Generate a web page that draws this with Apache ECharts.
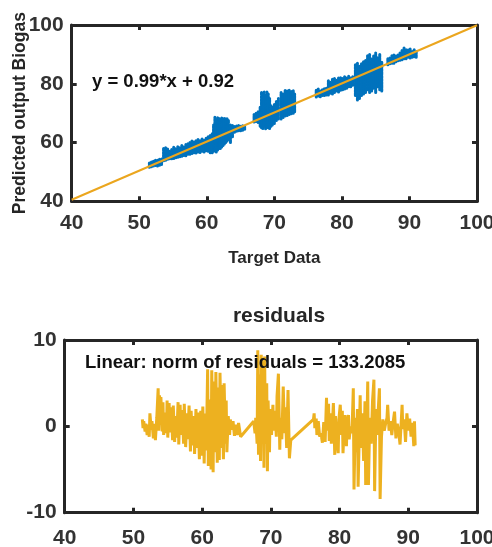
<!DOCTYPE html>
<html>
<head>
<meta charset="utf-8">
<script src="https://cdn.jsdelivr.net/npm/echarts@6/dist/echarts.min.js"></script>
<style>
  html, body { margin: 0; padding: 0; background: #fff; }
  #chart { width: 492px; height: 547px; }
</style>
</head>
<body>
<div id="chart"></div>
<script>
// scatter of predicted vs target, as vertical streaks of dots: target, lowest, highest predicted
const streakX = [51.5, 51.8, 52.1, 52.4, 52.7, 53.0, 53.3,
  53.6, 53.9, 54.2, 54.5,
  54.8, 55.1, 55.4, 55.7, 56.0, 56.3, 56.6, 56.9, 57.2,
  57.5, 57.8, 58.1, 58.4, 58.7, 59.0, 59.3, 59.6, 59.9, 60.2, 60.5,
  60.8, 61.0, 61.2, 61.4, 61.6, 61.8, 62.0, 62.2, 62.4, 62.6, 62.8, 63.0, 63.2,
  63.5, 63.8, 64.1, 64.4, 64.7, 65.0, 65.3, 65.6,
  67.0, 67.3, 67.6, 67.9, 68.1, 68.3, 68.5, 68.7, 68.9, 69.1, 69.3, 69.5, 69.7,
  70.0, 70.3, 70.6, 71.0, 71.3, 71.6, 71.9, 72.2, 72.5, 72.8, 73.0,
  76.2, 76.5, 76.8, 77.1, 77.4, 77.7,
  78.0, 78.3, 78.6, 78.9, 79.2, 79.5, 79.8, 80.1, 80.4, 80.7, 81.0, 81.3, 81.6,
  82.0, 82.3, 82.6, 82.9, 83.2, 83.5, 83.8, 84.1, 84.4, 84.7, 85.0, 85.3, 85.6, 85.9,
  86.8, 87.1, 87.4, 87.7, 88.0, 88.3,
  88.6, 88.9, 89.2, 89.5, 89.8, 90.1, 90.4, 90.7, 91.0];
const streakLow = [51.6, 51.8, 52.0, 52.2, 52.0, 52.3, 52.5,
  53.8, 54.0, 54.3, 54.5,
  54.5, 54.6, 54.8, 55.0, 55.2, 55.3, 55.6, 55.5, 56.0,
  56.0, 56.3, 56.5, 56.4, 56.8, 56.6, 57.0, 56.8, 57.2, 57.0, 56.5,
  56.5, 57.0, 57.2, 56.8, 57.5, 58.0, 58.0, 58.5, 59.0, 59.5, 60.0, 60.5, 61.0,
  60.0, 62.0, 63.5, 63.8, 64.0, 64.0, 64.2, 64.5,
  67.0, 67.2, 66.8, 65.5, 65.0, 64.8, 65.5, 64.7, 65.2, 65.0, 64.8, 65.5, 66.0,
  66.5, 67.5, 68.0, 68.0, 68.5, 69.0, 69.2, 69.5, 69.8, 70.0, 70.5,
  75.5, 75.8, 75.6, 76.0, 76.0, 76.2,
  76.2, 76.8, 76.5, 77.0, 77.5, 77.2, 77.8, 78.0, 78.2, 78.5, 79.0, 79.0, 79.5,
  76.0, 74.5, 75.0, 76.0, 76.5, 77.0, 78.0, 77.0, 77.5, 78.5, 77.0, 79.0, 78.0, 77.5,
  86.5, 86.8, 87.0, 87.0, 87.5, 87.8,
  88.0, 88.2, 88.5, 88.5, 89.0, 88.8, 89.0, 89.2, 89.0];
const streakHigh = [53.0, 53.4, 53.6, 54.0, 54.2, 54.5, 54.4,
  58.0, 58.2, 57.8, 57.0,
  57.8, 58.4, 58.0, 58.6, 58.2, 59.0, 58.5, 59.3, 59.6,
  60.0, 60.5, 60.2, 60.8, 61.0, 60.6, 61.2, 60.8, 61.5, 62.0, 62.4,
  63.0, 66.0, 68.6, 68.0, 68.5, 68.2, 67.8, 68.4, 68.0, 68.3, 68.0, 68.3, 67.5,
  66.0, 65.8, 65.5, 65.6, 65.8, 65.5, 65.7, 65.6,
  69.5, 70.0, 70.5, 72.0, 77.0, 76.8, 77.2, 76.0, 77.2, 76.5, 75.0, 72.5, 72.0,
  73.0, 74.0, 75.0, 77.0, 76.5, 77.8, 77.5, 77.8, 77.5, 77.8, 76.5,
  77.8, 78.2, 77.6, 78.0, 78.3, 78.5,
  81.0, 80.5, 81.5, 81.8, 81.2, 82.0, 82.2, 81.8, 82.5, 82.0, 82.6, 82.0, 82.4,
  86.5, 87.0, 86.0, 86.8, 87.5, 88.0, 89.5, 90.0, 88.5, 89.5, 90.5, 89.0, 90.0, 87.5,
  88.5, 89.0, 89.5, 89.8, 89.5, 90.0,
  90.5, 91.5, 92.2, 91.8, 91.5, 91.8, 91.2, 91.6, 91.0];

// linear fit y = 0.99*x + 0.92, end points
const fitX = [40, 100];
const fitY = [40.52, 99.92];

// residuals
const residX = [51.3, 51.4, 51.5, 51.7, 51.8, 52.0, 52.1, 52.3, 52.4, 52.6, 52.7, 52.9, 53.0, 53.2, 53.4,
  53.6, 53.7, 53.8, 53.9, 54.0, 54.2, 54.3, 54.4, 54.6, 54.8, 54.9, 55.0, 55.2, 55.3, 55.5, 55.7, 55.8,
  56.0, 56.1, 56.3, 56.5, 56.6, 56.8, 56.9, 57.1, 57.3, 57.4, 57.6, 57.8, 57.9, 58.1, 58.3, 58.4, 58.6,
  58.8, 58.9, 59.1, 59.3, 59.4, 59.6, 59.8, 59.9, 60.1, 60.3, 60.4, 60.6, 60.8, 60.9, 61.1, 61.3, 61.4,
  61.6, 61.7, 61.9, 62.0, 62.2, 62.3, 62.5, 62.6, 62.8, 62.9, 63.1, 63.2, 63.4, 63.5, 63.6, 63.8, 64.0,
  64.1, 64.3, 64.5, 64.7, 64.9, 65.1, 65.3, 65.6,
  67.5, 67.7, 67.8, 68.0, 68.1, 68.2, 68.3, 68.5, 68.6, 68.7, 68.8, 69.0, 69.1, 69.2, 69.4, 69.5, 69.6,
  69.8, 69.9, 70.1, 70.3, 70.4, 70.6, 70.8, 70.9, 71.1, 71.3, 71.4, 71.6, 71.8, 72.0, 72.1, 72.3, 72.5,
  72.7, 72.9,
  76.2, 76.3, 76.4, 76.6, 76.7, 76.9, 77.1, 77.3, 77.5, 77.7, 77.9, 78.1, 78.2, 78.4, 78.5, 78.7, 78.8,
  79.0, 79.1, 79.3, 79.4, 79.6, 79.8, 79.9, 80.1, 80.3, 80.4, 80.5, 80.7, 80.8, 81.0, 81.1, 81.3, 81.4,
  81.6, 81.8, 82.0, 82.1, 82.3, 82.4, 82.6, 82.7, 83.0, 83.1, 83.3, 83.5, 83.7, 83.8, 84.1, 84.2, 84.4,
  84.6, 84.8, 85.0, 85.1, 85.3, 85.5, 85.6, 85.8, 85.9, 86.1, 86.3, 86.5, 86.7, 86.9, 87.0, 87.2, 87.4,
  87.6, 87.8, 88.0, 88.2, 88.4, 88.6, 88.8, 89.1, 89.2, 89.4, 89.6, 89.8, 90.0, 90.2, 90.4, 90.6, 90.8,
  90.9, 91.0];
const residY = [0.8, -0.2, 0.6, -0.6, 0.3, -1.0, 0.2, -1.2, 1.5, -0.4, 0.6, -1.4, 0.3, -1.6, 1.0,
  4.4, -0.5, 3.6, 0.2, 3.4, -0.6, 2.8, -1.0, 1.6, -0.8, 3.0, -1.3, 2.7, -0.7, 2.2, -1.6, 2.4,
  -1.8, 1.2, -1.3, 2.8, -2.1, 2.5, -1.0, 1.9, -2.0, 2.6, -2.4, 1.5, -1.5, 2.4, -2.9, 1.8, -2.2,
  1.2, -3.2, 2.0, -2.5, 1.6, -3.8, 1.8, -3.4, 2.3, -4.3, 1.5, -2.8, 6.6, -4.6, 3.1, -5.0, 6.5,
  -5.3, 5.2, -3.0, 6.3, -4.2, 4.5, -3.9, 6.2, -2.5, 4.8, -3.8, 5.0, -2.0, 3.0, -3.0, 1.2, -1.0,
  0.8, -0.4, 0.6, -1.1, 0.2, -1.0, 0.4, -1.2,
  0.6, -0.8, 1.0, -2.0, 8.8, -3.3, 6.0, -4.0, 8.3, -1.5, 7.5, -4.8, 8.1, -2.0, 5.0, -5.2, 3.0,
  -3.0, 2.0, -1.0, 2.5, -0.5, 1.8, -1.2, 3.5, 6.1, -2.7, 1.0, -1.5, 4.6, -0.8, 2.2, -2.5, 4.2,
  -3.7, -1.6,
  0.8, 1.5, -0.2, 0.9, -1.0, 0.6, -1.2, -0.8, -1.9, 0.5, -1.8, 3.3, -0.5, 2.6, -1.7, 1.5, -2.0,
  1.0, 2.7, -3.3, 1.2, -1.5, -3.1, 0.8, 2.5, -1.0, 1.8, -3.1, 0.5, 1.3, -2.3, 0.4, 1.3, -1.5,
  0.0, -0.8, 4.4, -7.3, 1.0, -3.0, 2.0, -7.0, 3.6, -2.5, 1.5, -4.0, 2.9, -6.8, 5.2, -6.8, 1.0,
  -2.0, 3.0, 5.4, -7.5, 2.0, -1.0, 1.5, 4.4, -8.4, -1.2, 0.8, -0.5, 0.3, 1.0, 2.5, -0.5, 0.6,
  -1.0, 0.5, 1.7, -1.4, 0.3, -0.6, -2.1, 2.5, -0.3, 0.8, -1.8, 1.5, -0.5, 0.9, -1.2, 0.4, -2.3,
  0.6, -2.2];

const chart = echarts.init(document.getElementById('chart'));
const ink = '#262626';
const tickFont = { fontFamily: 'Liberation Sans, Arial, sans-serif', fontWeight: 'bold', fontSize: 21, color: '#333' };

// one side of a boxed matlab-style frame
const frame = (gridIndex, position, min, max, interval, withLabels) => ({
  gridIndex: gridIndex,
  type: 'value',
  position: position,
  min: min,
  max: max,
  interval: interval,
  splitLine: { show: false },
  axisLine: { show: true, onZero: false, lineStyle: { color: ink, width: 3 } },
  axisTick: { show: true, inside: true, length: 5, lineStyle: { color: ink, width: 3 } },
  axisLabel: Object.assign({ show: withLabels, margin: 8 }, tickFont)
});

const streakData = streakX.map((x, i) => [x, streakLow[i], streakHigh[i]]);
const fitData = fitX.map((x, i) => [x, fitY[i]]);
const residData = residX.map((x, i) => [x, residY[i]]);

const xTop0 = frame(0, 'bottom', 40, 100, 10, true);
xTop0.name = 'Target Data';
xTop0.nameLocation = 'middle';
xTop0.nameGap = 49;
xTop0.nameMoveOverlap = false;
xTop0.nameTextStyle = { fontFamily: 'Liberation Sans, Arial, sans-serif', fontWeight: 'bold', fontSize: 17, color: ink };
xTop0.axisLabel.margin = 11;

const yTop0 = frame(0, 'left', 40, 100, 20, true);
yTop0.name = 'Predicted output Biogas';
yTop0.nameLocation = 'middle';
yTop0.nameGap = 43;
yTop0.nameMoveOverlap = false;
yTop0.nameTextStyle = { fontFamily: 'Liberation Sans, Arial, sans-serif', fontWeight: 'bold', fontSize: 17.5, color: ink };

const xBot0 = frame(1, 'bottom', 40, 100, 10, true);
xBot0.axisLabel.margin = 15;
const yBot0 = frame(1, 'left', -10, 10, 10, true);

const option = {
  animation: false,
  backgroundColor: '#fff',
  grid: [
    { left: 71.7, top: 25, width: 405.3, height: 176.3, outerBoundsMode: 'none', containLabel: false },
    { left: 64.7, top: 340, width: 412.3, height: 172.7, outerBoundsMode: 'none', containLabel: false }
  ],
  xAxis: [xTop0, frame(0, 'top', 40, 100, 10, false), xBot0, frame(1, 'top', 40, 100, 10, false)],
  yAxis: [yTop0, frame(0, 'right', 40, 100, 20, false), yBot0, frame(1, 'right', -10, 10, 10, false)],
  title: {
    text: 'residuals',
    left: 274,
    top: 301,
    textAlign: 'center',
    textStyle: { fontFamily: 'Liberation Sans, Arial, sans-serif', fontWeight: 'bold', fontSize: 21, color: ink }
  },
  graphic: [
    {
      type: 'text', left: 92, top: 72, z: 100,
      style: { text: 'y = 0.99*x + 0.92', font: 'bold 18.5px "Liberation Sans", Arial, sans-serif', fill: '#111' }
    },
    {
      type: 'text', left: 85, top: 353, z: 100,
      style: { text: 'Linear: norm of residuals = 133.2085', font: 'bold 18.5px "Liberation Sans", Arial, sans-serif', fill: '#111' }
    }
  ],
  series: [
    {
      type: 'custom',
      xAxisIndex: 0,
      yAxisIndex: 0,
      data: streakData,
      encode: { x: 0, y: [1, 2] },
      renderItem: (params, api) => {
        const p1 = api.coord([api.value(0), api.value(1)]);
        const p2 = api.coord([api.value(0), api.value(2)]);
        return {
          type: 'line',
          shape: { x1: p1[0], y1: p1[1], x2: p2[0], y2: p2[1] },
          style: { stroke: '#0072BD', lineWidth: 3, lineCap: 'round', lineDash: [2.5, 0.8] }
        };
      },
      z: 2
    },
    {
      type: 'line',
      xAxisIndex: 0,
      yAxisIndex: 0,
      data: fitData,
      symbol: 'none',
      lineStyle: { color: '#EBA61E', width: 2 },
      z: 3
    },
    {
      type: 'line',
      xAxisIndex: 2,
      yAxisIndex: 2,
      data: residData,
      symbol: 'none',
      lineStyle: { color: '#EDB120', width: 3 },
      z: 3
    }
  ]
};
chart.setOption(option);
</script>
</body>
</html>
